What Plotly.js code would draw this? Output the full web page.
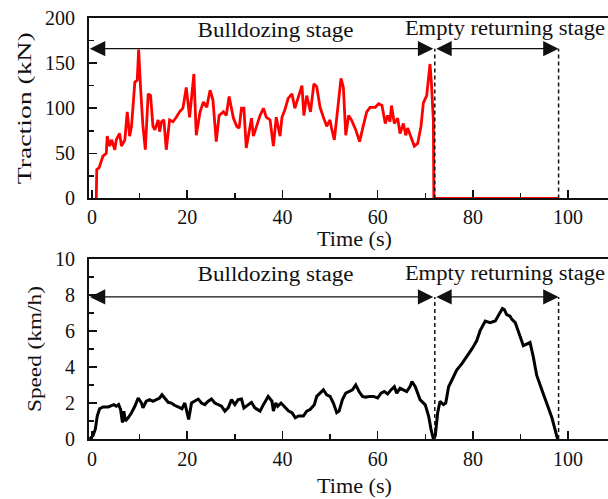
<!DOCTYPE html>
<html>
<head>
<meta charset="utf-8">
<script src="https://cdn.plot.ly/plotly-3.0.1.min.js"></script>
<style>
html,body{margin:0;padding:0;overflow:hidden;background:#fff;}
#chart{width:620px;height:499px;}
</style>
</head>
<body>
<div id="chart"></div>
<script>
// ---- data ----
const tractionTime = [0.9, 1.0, 1.5, 2.3, 3.0, 3.2, 3.7, 4.1, 4.8, 5.1, 5.8, 6.2, 6.9, 7.4, 7.9, 8.3, 8.6, 9.0, 9.5, 9.8, 10.2, 10.7, 11.2, 11.8, 12.3, 12.8, 13.2, 13.9, 14.2, 14.6, 15.1, 15.6, 16.3, 17.0, 17.7, 18.4, 19.1, 19.8, 20.5, 21.4, 21.9, 22.7, 23.4, 24.1, 24.8, 25.4, 26.1, 26.7, 27.6, 28.2, 28.8, 29.7, 30.4, 30.9, 31.4, 31.9, 32.4, 33.0, 33.5, 33.9, 34.6, 35.3, 36.0, 36.6, 37.4, 38.1, 38.7, 39.5, 39.9, 40.5, 41.2, 42.0, 42.6, 43.3, 44.1, 44.5, 45.1, 45.9, 46.6, 47.2, 47.9, 48.6, 49.3, 50.0, 50.3, 50.9, 51.4, 51.9, 52.3, 52.8, 53.3, 53.9, 54.5, 55.4, 56.2, 57.0, 57.7, 58.4, 59.5, 60.2, 60.9, 61.6, 62.1, 62.6, 62.9, 63.5, 64.2, 64.7, 65.4, 65.9, 66.3, 67.2, 67.7, 68.4, 69.1, 69.6, 70.3, 71.0, 71.3, 71.7, 71.8, 85.0, 98.0];
const tractionKN = [0, 32, 34, 47, 50, 69, 58, 65, 54, 65, 72, 58, 65, 96, 69, 80, 101, 129, 131, 165, 123, 80, 54, 116, 114, 80, 76, 87, 74, 85, 87, 54, 87, 85, 90, 96, 100, 123, 90, 138, 70, 96, 107, 101, 120, 109, 63, 92, 96, 92, 113, 89, 80, 78, 100, 100, 56, 76, 89, 69, 81, 92, 100, 90, 87, 58, 90, 69, 90, 98, 111, 116, 100, 111, 125, 92, 114, 96, 127, 124, 101, 90, 80, 87, 78, 65, 90, 109, 133, 123, 70, 92, 87, 76, 63, 81, 96, 101, 101, 105, 103, 83, 92, 85, 103, 83, 89, 72, 83, 70, 78, 65, 58, 61, 80, 106, 114, 149, 127, 86, 0, 0, 0];

const speedTime = [-0.5, 0.2, 0.7, 1.1, 1.6, 2.3, 3.4, 4.1, 4.6, 5.1, 5.6, 6.0, 6.4, 6.7, 7.0, 7.6, 8.3, 9.0, 9.7, 10.4, 10.7, 11.4, 12.1, 12.8, 13.5, 14.2, 14.7, 15.3, 16.0, 16.7, 17.4, 18.1, 18.9, 19.5, 19.8, 20.3, 20.9, 21.6, 22.3, 23.0, 23.7, 24.4, 25.1, 25.8, 26.5, 27.2, 27.9, 28.6, 29.3, 30.0, 30.7, 31.4, 31.9, 32.8, 33.5, 34.2, 35.3, 36.0, 37.0, 37.8, 38.1, 38.6, 39.0, 39.7, 40.6, 41.3, 42.0, 42.7, 43.4, 44.4, 45.1, 45.8, 46.7, 47.2, 47.9, 48.6, 49.3, 50.0, 50.7, 51.4, 51.9, 52.6, 53.3, 54.2, 54.7, 55.4, 56.1, 56.8, 57.5, 58.4, 59.1, 60.0, 60.7, 61.4, 62.1, 62.8, 63.5, 64.0, 64.7, 65.4, 66.1, 66.8, 67.2, 67.9, 68.9, 70.0, 70.7, 71.2, 71.7, 72.1, 72.6, 73.1, 73.8, 74.3, 74.9, 75.6, 76.6, 77.7, 78.7, 79.8, 80.8, 81.5, 82.6, 83.6, 84.7, 85.5, 86.2, 86.6, 87.1, 87.8, 88.2, 88.9, 89.7, 90.6, 91.3, 92.0, 92.7, 93.4, 94.5, 95.5, 96.6, 97.6, 97.8];
const speedKmh = [0, 0.18, 0.55, 1.28, 1.68, 1.78, 1.78, 1.86, 1.91, 1.82, 1.91, 1.64, 0.91, 1.55, 1.0, 1.18, 1.46, 1.82, 2.28, 2.0, 1.73, 2.1, 2.19, 2.1, 2.19, 2.28, 2.46, 2.28, 2.04, 2.0, 1.86, 1.78, 1.68, 2.0, 1.64, 1.09, 2.0, 2.1, 2.22, 2.0, 1.91, 2.1, 2.22, 2.0, 1.91, 1.82, 1.55, 1.73, 2.19, 1.91, 2.19, 2.22, 1.73, 1.91, 2.04, 1.73, 1.55, 1.91, 2.37, 2.1, 1.55, 2.0, 1.82, 2.0, 1.73, 1.55, 1.46, 1.18, 1.28, 1.28, 1.55, 1.64, 1.91, 2.37, 2.55, 2.73, 2.46, 2.37, 2.0, 1.46, 1.55, 2.19, 2.55, 2.64, 2.73, 3.01, 2.64, 2.37, 2.33, 2.37, 2.37, 2.28, 2.55, 2.64, 2.51, 2.73, 2.91, 2.55, 2.82, 2.73, 2.64, 2.91, 3.19, 2.91, 2.19, 1.9, 1.28, 0.55, 0, 0.18, 1.45, 2.1, 1.91, 2.0, 2.9, 3.28, 3.83, 4.19, 4.55, 5.01, 5.46, 6.01, 6.56, 6.47, 6.56, 6.92, 7.25, 7.19, 6.92, 6.83, 6.65, 6.47, 5.83, 5.19, 5.28, 5.37, 4.55, 3.55, 2.73, 2.0, 1.18, 0.18, 0];

const stageBounds = [72, 98];           // end of bulldozing, end of empty return (s)
const stageLabels = ['Bulldozing stage', 'Empty returning stage'];
const xTitle = 'Time (s)';
const yTitleTop = 'Traction (kN)';
const yTitleBottom = 'Speed (km/h)';

// ---- styling ----
const FONT = 'Liberation Serif';
const INK = '#111';
const xRange = [-0.63, 110.9];

function xAxis(anchor, standoffLabel, titleStandoff) {
  return {
    anchor: anchor, range: xRange, dtick: 20, tick0: 0,
    ticks: 'inside', ticklen: 8, tickwidth: 1.5, tickcolor: INK,
    minor: {dtick: 10, tick0: 0, ticks: 'inside', ticklen: 5, tickwidth: 1.5, tickcolor: INK},
    showline: true, mirror: true, linecolor: INK, linewidth: 2,
    showgrid: false, zeroline: false,
    tickfont: {family: FONT, size: 20, color: INK},
    ticklabelstandoff: standoffLabel,
    title: {text: xTitle, font: {family: FONT, size: 20, color: INK}, standoff: titleStandoff}
  };
}
function yAxis(anchor, domain, range, dtick, minorDtick, title) {
  return {
    anchor: anchor, domain: domain, range: range, dtick: dtick, tick0: 0,
    ticks: 'inside', ticklen: 8, tickwidth: 1.5, tickcolor: INK,
    minor: {dtick: minorDtick, tick0: 0, ticks: 'inside', ticklen: 5, tickwidth: 1.5, tickcolor: INK},
    showline: true, mirror: true, linecolor: INK, linewidth: 2,
    showgrid: false, zeroline: false,
    tickfont: {family: FONT, size: 20, color: INK},
    ticklabelstandoff: 8,
    title: {text: title, font: {family: FONT, size: 19, color: INK}, standoff: 8}
  };
}

const traces = [
  {x: tractionTime, y: tractionKN, xaxis: 'x', yaxis: 'y', type: 'scatter', mode: 'lines',
   line: {color: '#ff0000', width: 2.8}, hoverinfo: 'skip'},
  {x: speedTime, y: speedKmh, xaxis: 'x2', yaxis: 'y2', type: 'scatter', mode: 'lines',
   line: {color: '#000', width: 3}, hoverinfo: 'skip'}
];

const arrowTop = 166, arrowBottom = 7.9;
function stageArrows(xr, yr, yv) {
  const common = {xref: xr, yref: yr, axref: xr, ayref: yr, text: '', showarrow: true,
    arrowhead: 2, arrowside: 'end+start', arrowsize: 2.2, arrowwidth: 1.4, arrowcolor: INK,
    standoff: 0, startstandoff: 0};
  return [
    Object.assign({}, common, {x: -0.45, y: yv, ax: stageBounds[0], ay: yv}),
    Object.assign({}, common, {x: stageBounds[1], y: yv, ax: stageBounds[0], ay: yv})
  ];
}
function stageText(xr, yr, yv1, yv2) {
  return [
    {xref: xr, yref: yr, x: 38.6, y: yv1, text: stageLabels[0], showarrow: false,
     font: {family: FONT, size: 20, color: INK}, xanchor: 'center', yanchor: 'middle'},
    {xref: xr, yref: yr, x: 86.8, y: yv2, text: stageLabels[1], showarrow: false,
     font: {family: FONT, size: 20, color: INK}, xanchor: 'center', yanchor: 'middle'}
  ];
}
function dashed(xr, yr, ytop) {
  return stageBounds.map(b => ({type: 'line', xref: xr, yref: yr, x0: b, x1: b, y0: 0, y1: ytop,
    line: {color: INK, width: 1.5, dash: '4px,3px'}}));
}

const layout = {
  width: 620, height: 499,
  margin: {l: 89, r: 0, t: 17.7, b: 59.5, autoexpand: false},
  paper_bgcolor: '#fff', plot_bgcolor: '#fff',
  showlegend: false,
  font: {family: FONT, color: INK},
  xaxis: xAxis('y', 0, 2),
  yaxis: yAxis('x', [0.5714, 1], [0, 200], 50, 25, yTitleTop),
  xaxis2: xAxis('y2', 1, 10),
  yaxis2: yAxis('x2', [0, 0.4272], [0, 10], 2, 1, yTitleBottom),
  annotations: [].concat(
    stageArrows('x', 'y', arrowTop), stageArrows('x2', 'y2', arrowBottom),
    stageText('x', 'y', 186.4, 188.6), stageText('x2', 'y2', 9.13, 9.18)
  ),
  shapes: [].concat(dashed('x', 'y', arrowTop), dashed('x2', 'y2', arrowBottom))
};

Plotly.newPlot('chart', traces, layout, {staticPlot: true, displayModeBar: false}).then(function (gd) {
  // stretch texts along their baseline to match the reference's wide lettering
  const stretch = {
    'Bulldozing stage': 156,
    'Empty returning stage': 200,
    'Traction (kN)': 152,
    'Speed (km/h)': 126,
    'Time (s)': 75
  };
  gd.querySelectorAll('text').forEach(function (t) {
    const s = t.textContent;
    if (stretch[s]) {
      t.setAttribute('textLength', stretch[s]);
      t.setAttribute('lengthAdjust', 'spacingAndGlyphs');
    }
  });
});
</script>
</body>
</html>
